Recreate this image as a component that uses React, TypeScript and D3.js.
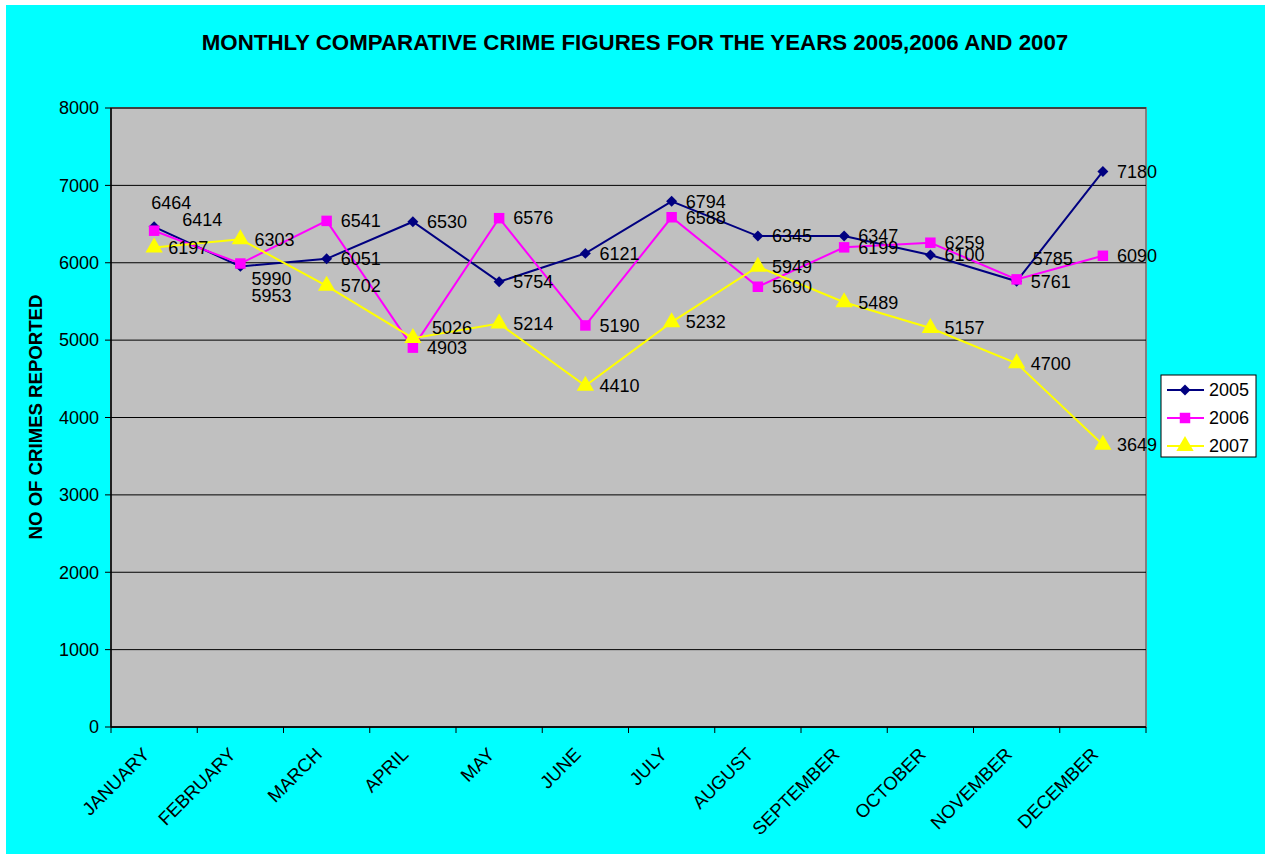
import React from "react";
import * as d3 from "d3";

const months = ["JANUARY","FEBRUARY","MARCH","APRIL","MAY","JUNE","JULY","AUGUST","SEPTEMBER","OCTOBER","NOVEMBER","DECEMBER"];
const y2005 = [6464, 5953, 6051, 6530, 5754, 6121, 6794, 6345, 6347, 6100, 5761, 7180];
const y2006 = [6414, 5990, 6541, 4903, 6576, 5190, 6588, 5690, 6199, 6259, 5785, 6090];
const y2007 = [6197, 6303, 5702, 5026, 5214, 4410, 5232, 5949, 5489, 5157, 4700, 3649];
const yTicks = [0, 1000, 2000, 3000, 4000, 5000, 6000, 7000, 8000];
const seriesNames = ["2005", "2006", "2007"];

const colors = ["#000080", "#FF00FF", "#FFFF00"];
const shapes = [d3.symbolSquare, d3.symbolSquare, d3.symbolTriangle];
const symSizes = [60, 110, 130];
const symRot = [45, 0, 0];

// label offsets (dx, dy) relative to point; default is right of point
const labelOffsets: Record<string, [number, number]> = {
  "0-0": [-3, -24],
  "1-0": [28, -11],
  "1-1": [11, 15],
  "0-1": [11, 29],
  "2-3": [19, -10],
  "1-10": [16, -21],
};

const W = 1265, H = 854;
const L = 111, R = 1146, T = 108, B = 727;
const FONT = "Liberation Sans, Arial, sans-serif";

export default function App() {
  const x = d3.scaleBand<string>().domain(months).range([L, R]);
  const y = d3.scaleLinear().domain([0, 8000]).range([B, T]);
  const data = [y2005, y2006, y2007];
  const cx = (i: number) => x(months[i])! + x.bandwidth() / 2;
  const line = d3.line<number>().x((_, i) => cx(i)).y((d) => y(d));

  return (
    <svg width={W} height={H} style={{ position: "absolute", left: 0, top: 0 }} fontFamily={FONT}>
      <rect x={6} y={5} width={W - 6} height={H - 5} fill="#00FFFF" />
      <text x={635} y={50} textAnchor="middle" fontWeight="bold" fontSize={22.3}>
        MONTHLY COMPARATIVE CRIME FIGURES FOR THE YEARS 2005,2006 AND 2007
      </text>
      <rect x={L} y={T} width={R - L} height={B - T} fill="#C0C0C0" stroke="#808080" strokeWidth={2} />
      {yTicks.map((t) => (
        <g key={t}>
          <line x1={L} x2={R} y1={y(t)} y2={y(t)} stroke="#000" strokeWidth={1} />
          <line x1={L - 6} x2={L} y1={y(t)} y2={y(t)} stroke="#000" />
          <text x={L - 12} y={y(t)} dy="0.35em" textAnchor="end" fontSize={18}>{t}</text>
        </g>
      ))}
      <line x1={L} x2={L} y1={T} y2={B} stroke="#000" strokeWidth={1.5} />
      <line x1={L} x2={R} y1={B} y2={B} stroke="#000" strokeWidth={1.5} />
      {months.map((m, i) => (
        <g key={m}>
          <line x1={L + i * x.step()} x2={L + i * x.step()} y1={B} y2={B + 6} stroke="#000" />
          <text
            transform={`translate(${cx(i) - 8},${B + 24}) rotate(-45)`}
            textAnchor="end"
            fontSize={18.5}
            dy="0.35em"
          >
            {m}
          </text>
        </g>
      ))}
      <line x1={R} x2={R} y1={B} y2={B + 6} stroke="#000" />
      <text transform={`translate(42,417) rotate(-90)`} textAnchor="middle" fontWeight="bold" fontSize={18.6}>
        NO OF CRIMES REPORTED
      </text>
      {data.map((s, si) => (
        <g key={si}>
          <path d={line(s)!} fill="none" stroke={colors[si]} strokeWidth={2} />
          {s.map((v, i) => (
            <path
              key={i}
              d={d3.symbol().type(shapes[si]).size(symSizes[si])()!}
              transform={`translate(${cx(i)},${y(v)}) rotate(${symRot[si]})`}
              fill={colors[si]}
            />
          ))}
        </g>
      ))}
      {data.map((s, si) =>
        s.map((v, i) => {
          const off = labelOffsets[`${si}-${i}`] || [14, 0];
          return (
            <text key={`${si}-${i}`} x={cx(i) + off[0]} y={y(v) + off[1]} dy="0.35em" fontSize={18}>
              {v}
            </text>
          );
        })
      )}
      <rect x={1161} y={375} width={95} height={82} fill="#fff" stroke="#000" strokeWidth={1} />
      {seriesNames.map((n, i) => (
        <g key={n} transform={`translate(0,${390 + i * 28})`}>
          <line x1={1167} x2={1204} y1={0} y2={0} stroke={colors[i]} strokeWidth={2} />
          <path
            d={d3.symbol().type(shapes[i]).size(symSizes[i])()!}
            transform={`translate(1185,0) rotate(${symRot[i]})`}
            fill={colors[i]}
          />
          <text x={1209} y={0} dy="0.35em" fontSize={18}>{n}</text>
        </g>
      ))}
    </svg>
  );
}
